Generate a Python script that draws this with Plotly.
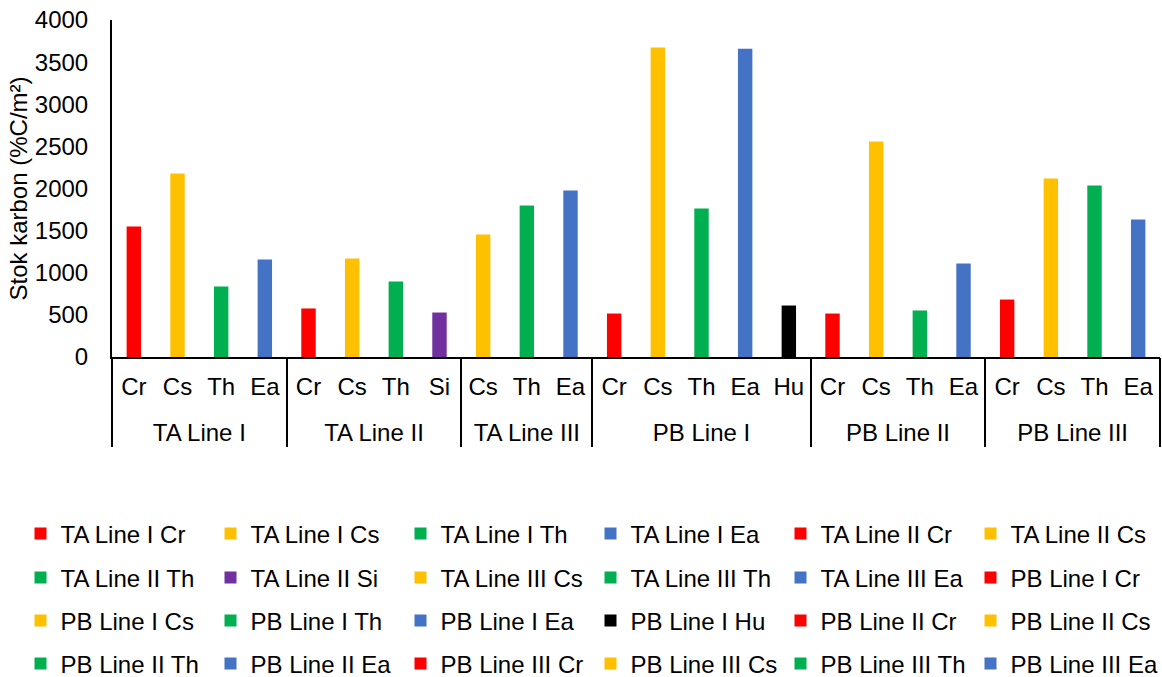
import plotly.graph_objects as go

# Plot groups (transect lines) and the species sampled in each
groups = ["TA Line I", "TA Line II", "TA Line III", "PB Line I", "PB Line II", "PB Line III"]
species = [
    ["Cr", "Cs", "Th", "Ea"],
    ["Cr", "Cs", "Th", "Si"],
    ["Cs", "Th", "Ea"],
    ["Cr", "Cs", "Th", "Ea", "Hu"],
    ["Cr", "Cs", "Th", "Ea"],
    ["Cr", "Cs", "Th", "Ea"],
]
# Carbon stock per species (%C/m²)
stock = [
    [1549, 2178, 837, 1157],
    [576, 1169, 896, 528],
    [1454, 1798, 1976],
    [516, 3674, 1763, 3658, 611],
    [516, 2558, 552, 1110],
    [682, 2119, 2036, 1632],
]
y_ticks = [0, 500, 1000, 1500, 2000, 2500, 3000, 3500, 4000]

species_colors = {
    "Cr": "#FF0000",
    "Cs": "#FFC000",
    "Th": "#00B050",
    "Ea": "#4472C4",
    "Si": "#7030A0",
    "Hu": "#000000",
}

FONT = "Liberation Sans, Arial, sans-serif"
FS = 24
W, H = 1162, 677
M_L, M_R, M_T, M_B = 112, 2, 20, 320
plot_w = W - M_L - M_R
plot_h = H - M_T - M_B

legend_rows_px = [534, 578, 621, 664]
legend_names = ["legend", "legend2", "legend3", "legend4"]
per_row = 6

fig = go.Figure()
categories, cat_labels = [], []
group_centers, group_edges = [], [-0.5]
k = 0
for g, sp_list, vals in zip(groups, species, stock):
    start = len(categories)
    for sp, v in zip(sp_list, vals):
        name = f"{g} {sp}"
        categories.append(name)
        cat_labels.append(sp)
        fig.add_trace(go.Bar(
            x=[name],
            y=[v],
            name=name,
            marker=dict(color=species_colors[sp], line=dict(width=0)),
            width=0.33,
            legend=legend_names[k // per_row],
        ))
        k += 1
    end = len(categories) - 1
    group_centers.append((start + end) / 2)
    group_edges.append(end + 0.5)

n_cat = len(categories)
x_range = [-0.5, n_cat - 0.5]

# empty traces so the group-label and divider axes get drawn
for ax_id in ("x2", "x3"):
    fig.add_trace(go.Scatter(x=[], y=[], xaxis=ax_id, yaxis="y",
                             showlegend=False, hoverinfo="skip"))

legend_common = dict(
    orientation="h",
    xref="paper", yref="paper",
    xanchor="left", yanchor="middle",
    font=dict(family=FONT, size=FS, color="#000000"),
    entrywidth=145, entrywidthmode="pixels",
    bgcolor="rgba(0,0,0,0)",
    borderwidth=0,
    itemclick=False, itemdoubleclick=False,
    traceorder="normal",
)
layout_legends = {}
for name, ypx in zip(legend_names, legend_rows_px):
    layout_legends[name] = dict(
        legend_common,
        x=(20.5 - M_L) / plot_w,
        y=(H - M_B - ypx) / plot_h,
    )

fig.update_layout(
    width=W, height=H,
    margin=dict(l=M_L, r=M_R, t=M_T, b=M_B, autoexpand=False),
    paper_bgcolor="white",
    plot_bgcolor="white",
    barmode="overlay",
    font=dict(family=FONT, size=FS, color="#000000"),
    showlegend=True,
    **layout_legends,
    # species labels along the category axis
    xaxis=dict(
        type="category",
        categoryorder="array", categoryarray=categories,
        tickmode="array", tickvals=categories, ticktext=cat_labels,
        range=x_range,
        showline=True, linecolor="#000000", linewidth=2,
        showgrid=False, zeroline=False,
        ticks="", ticklabelstandoff=7,
        tickfont=dict(family=FONT, size=FS, color="#000000"),
    ),
    # group (line) labels under the species labels
    xaxis2=dict(
        overlaying="x", anchor="y", side="bottom",
        type="linear", range=x_range,
        tickmode="array", tickvals=group_centers, ticktext=groups,
        showline=False, showgrid=False, zeroline=False,
        ticks="", ticklabelstandoff=59,
        tickfont=dict(family=FONT, size=FS, color="#000000"),
    ),
    # vertical dividers between groups
    xaxis3=dict(
        overlaying="x", anchor="y", side="bottom",
        type="linear", range=x_range,
        tickmode="array", tickvals=group_edges,
        showticklabels=False,
        showline=False, showgrid=False, zeroline=False,
        ticks="outside", ticklen=89, tickwidth=1.5, tickcolor="#000000",
    ),
    yaxis=dict(
        range=[0, 4000],
        tickmode="array", tickvals=y_ticks,
        showline=True, linecolor="#000000", linewidth=2,
        showgrid=False, zeroline=False,
        ticks="", ticklabelstandoff=17,
        tickfont=dict(family=FONT, size=FS, color="#000000"),
        title=dict(text="Stok karbon (%C/m²)",
                   font=dict(family=FONT, size=FS, color="#000000"),
                   standoff=0),
    ),
)

fig.write_html("out.html")
